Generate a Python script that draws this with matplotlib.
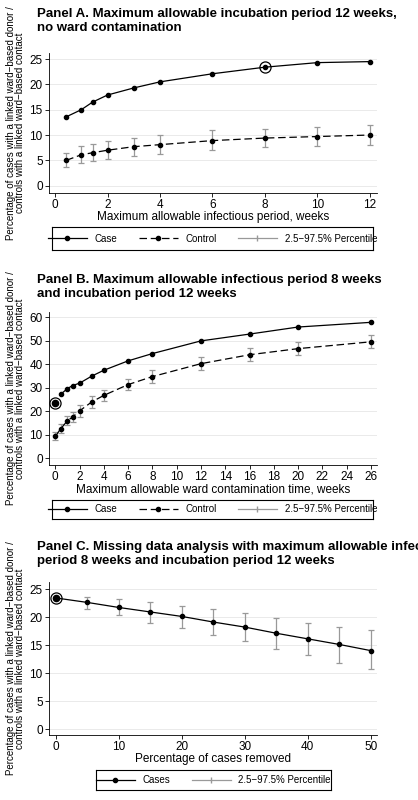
import matplotlib
matplotlib.use("Agg")
import matplotlib.pyplot as plt
from matplotlib.lines import Line2D
import numpy as np

a_x = [0.43, 1, 1.43, 2, 3, 4, 6, 8, 10, 12]
a_case = [13.6, 15, 16.5, 17.9, 19.3, 20.5, 22.1, 23.4, 24.3, 24.5]
a_ctrl = [5, 6.1, 6.5, 7, 7.7, 8.1, 8.9, 9.4, 9.7, 10]
a_lo = [3.6, 4.4, 4.8, 5.3, 5.9, 6.2, 7, 7.6, 7.9, 8]
a_hi = [6.5, 7.8, 8.2, 8.8, 9.5, 10.1, 10.9, 11.2, 11.6, 11.9]

b_x = [0, 0.43, 1, 1.43, 2, 3, 4, 6, 8, 12, 16, 20, 26]
b_case = [23.4, 27.2, 29.7, 31, 32, 35, 37.5, 41.5, 44.6, 50, 52.9, 55.9, 57.9]
b_ctrl = [9.3, 12.5, 16, 17.6, 20.2, 24, 26.8, 31.4, 34.8, 40.3, 44.1, 46.7, 49.6]
b_lo = [7.8, 10.6, 14, 15.4, 17.8, 21.4, 24.3, 28.9, 32.2, 37.5, 41.3, 43.9, 47]
b_hi = [11.1, 14.6, 18, 19.7, 22.7, 26.6, 29.2, 33.9, 37.5, 43.3, 46.8, 49.5, 52.3]

c_x = [0, 5, 10, 15, 20, 25, 30, 35, 40, 45, 50]
c_case = [23.4, 22.6, 21.7, 20.9, 20.1, 19.1, 18.2, 17.1, 16.1, 15.1, 14]
c_lo = [23.4, 21.5, 20.4, 19.0, 18.1, 16.8, 15.8, 14.2, 13.2, 11.8, 10.7]
c_hi = [23.4, 23.6, 23.2, 22.7, 22.0, 21.4, 20.7, 19.8, 18.9, 18.3, 17.6]

plt.rcParams['font.family'] = ['Liberation Sans', 'DejaVu Sans']
fig = plt.figure(figsize=(4.18, 8), dpi=100)
W, H = 418, 800
def ax_at(l, t, r, b):
    return fig.add_axes([l/W, 1-b/H, (r-l)/W, (b-t)/H])

ylab = "Percentage of cases with a linked ward\u2212based donor /\ncontrols with a linked ward\u2212based contact"
gray = '#999999'

def style(ax, yt, xt, xlabel):
    for s in ['top', 'right']:
        ax.spines[s].set_visible(False)
    ax.set_yticks(yt)
    ax.set_xticks(xt)
    ax.tick_params(labelsize=8.5, length=3, width=0.6, pad=1.5)
    ax.grid(axis='y', color='#e6e6e6', lw=0.6)
    ax.set_axisbelow(True)
    ax.set_xlabel(xlabel, fontsize=8.5, labelpad=0)
    ax.set_ylabel(ylab, fontsize=7, labelpad=3, linespacing=0.95)
    for sp in ax.spines.values():
        sp.set_linewidth(0.6)

def eb(ax, x, y, lo, hi):
    ax.errorbar(x, y, yerr=[np.array(y)-np.array(lo), np.array(hi)-np.array(y)], fmt='none',
                ecolor=gray, elinewidth=0.9, capsize=2.5, capthick=0.9, zorder=2)

def legend(handles, labels, l, t, r, b, ncol):
    lax = fig.add_axes([l/W, 1-b/H, (r-l)/W, (b-t)/H])
    lax.set_xticks([]); lax.set_yticks([])
    for sp in lax.spines.values(): sp.set_linewidth(0.8)
    lax.legend(handles, labels, ncol=ncol, loc='center', frameon=False, fontsize=7,
               handlelength=4, columnspacing=2.2, borderaxespad=0)

case_h = Line2D([], [], color='k', lw=0.9, marker='o', ms=3)
ctrl_h = Line2D([], [], color='k', lw=0.9, ls=(0, (6, 3)), marker='o', ms=3)
pct_h = Line2D([], [], color=gray, lw=0.9, marker='|', ms=5)

tfs = 9.5
# Panel A
ax = ax_at(49, 53, 377, 193)
eb(ax, a_x, a_ctrl, a_lo, a_hi)
ax.plot(a_x, a_case, 'k-o', lw=0.9, ms=3, zorder=3)
ax.plot(a_x, a_ctrl, 'k-o', ls=(0, (6, 3)), lw=0.9, ms=3, zorder=3)
ax.plot([8], [23.4], 'o', mfc='none', mec='k', ms=8, mew=0.9, zorder=4)
ax.set_xlim(-0.23, 12.27); ax.set_ylim(-1.45, 26.2)
style(ax, range(0, 26, 5), range(0, 13, 2), "Maximum allowable infectious period, weeks")
fig.text(37/W, 1-21/H, "Panel A. Maximum allowable incubation period 12 weeks,\nno ward contamination",
         fontsize=tfs, fontweight='bold', va='center', linespacing=1.15)
legend([case_h, ctrl_h, pct_h], ["Case", "Control", "2.5\u221297.5% Percentile"], 52, 227, 373, 250, 3)

# Panel B
ax = ax_at(49, 312, 377, 465)
eb(ax, b_x, b_ctrl, b_lo, b_hi)
ax.plot(b_x[1:], b_case[1:], 'k-o', lw=0.9, ms=3, zorder=3)
ax.plot(b_x[:1], b_case[:1], 'ko', ms=4.5, zorder=3)
ax.plot(b_x, b_ctrl, 'k-o', ls=(0, (6, 3)), lw=0.9, ms=3, zorder=3)
ax.plot([0], [23.4], 'o', mfc='none', mec='k', ms=8, mew=0.9, zorder=4)
ax.set_xlim(-0.52, 26.5); ax.set_ylim(-2.85, 62.3)
style(ax, range(0, 61, 10), range(0, 27, 2), "Maximum allowable ward contamination time, weeks")
fig.text(37/W, 1-(260+27)/H, "Panel B. Maximum allowable infectious period 8 weeks\nand incubation period 12 weeks",
         fontsize=tfs, fontweight='bold', va='center', linespacing=1.15)
legend([case_h, ctrl_h, pct_h], ["Case", "Control", "2.5\u221297.5% Percentile"], 52, 500, 373, 519, 3)

# Panel C
ax = ax_at(49, 582, 377, 735)
eb(ax, c_x[1:], c_case[1:], c_lo[1:], c_hi[1:])
ax.plot(c_x, c_case, 'k-o', lw=0.9, ms=3, zorder=3)
ax.plot([0], [23.4], 'ko', ms=4.5, zorder=3)
ax.plot([0], [23.4], 'o', mfc='none', mec='k', ms=8, mew=0.9, zorder=4)
ax.set_xlim(-1.1, 51.0); ax.set_ylim(-1.07, 26.25)
style(ax, range(0, 26, 5), range(0, 51, 10), "Percentage of cases removed")
fig.text(37/W, 1-(530+24)/H, "Panel C. Missing data analysis with maximum allowable infectious\nperiod 8 weeks and incubation period 12 weeks",
         fontsize=tfs, fontweight='bold', va='center', linespacing=1.15)
legend([case_h, pct_h], ["Cases", "2.5\u221297.5% Percentile"], 96, 770, 331, 790, 2)

fig.savefig("out.png", dpi=100, facecolor='white')
